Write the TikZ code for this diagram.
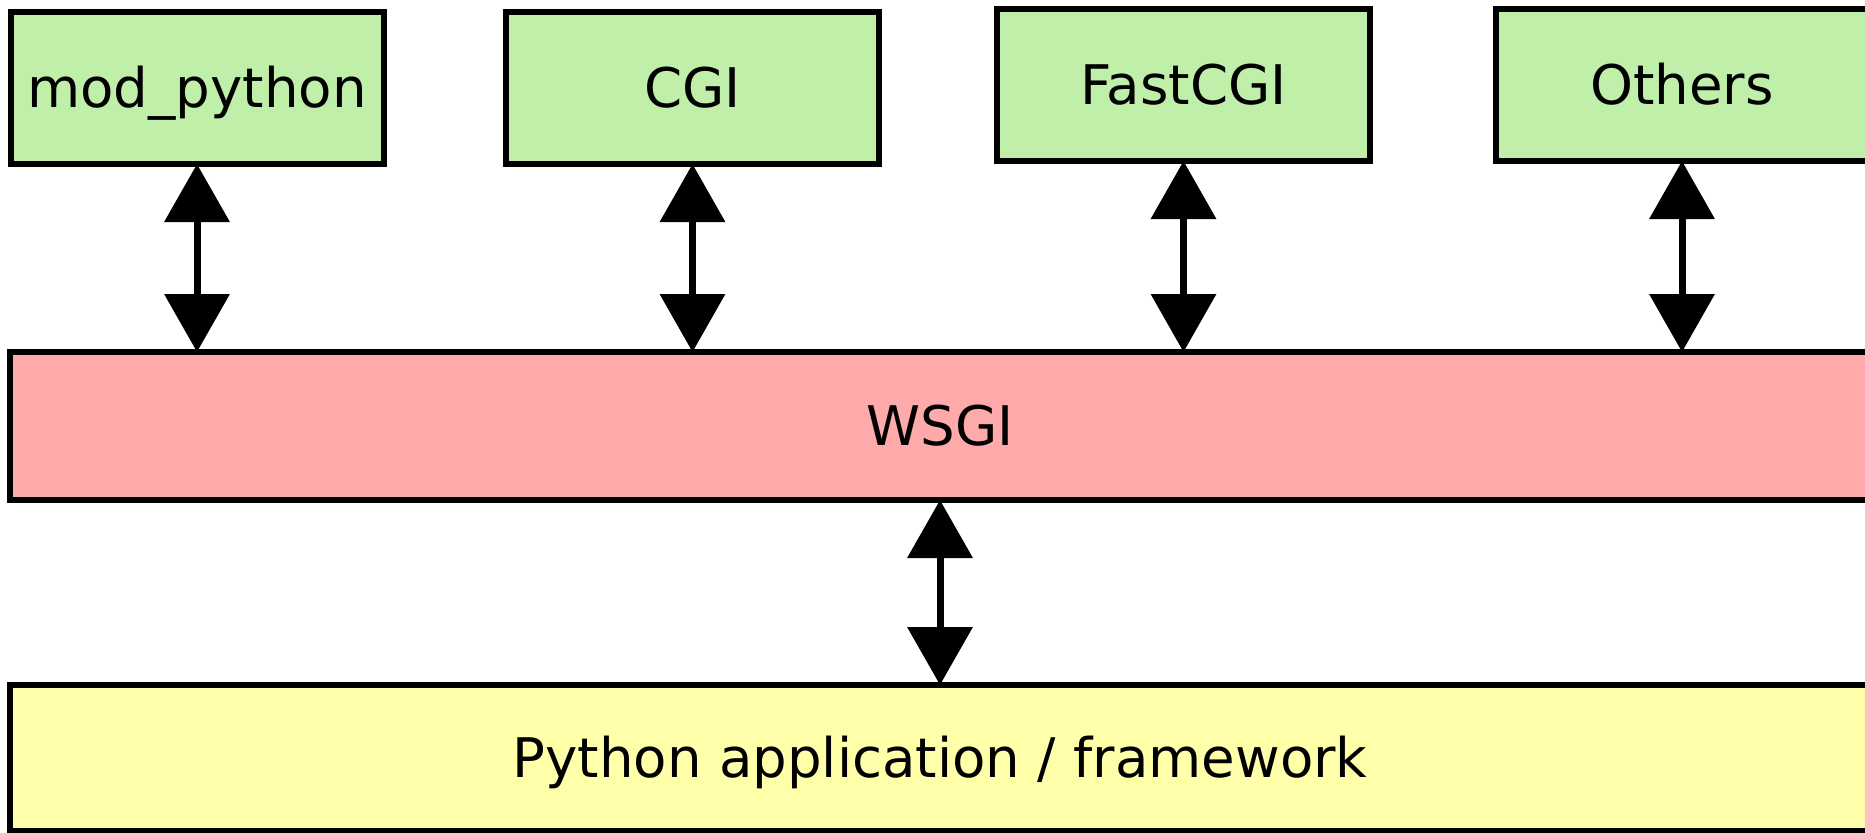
\documentclass[tikz,border=0pt]{standalone}
\usepackage{fontspec}
\setmainfont{DejaVu Sans}
\usepackage{xcolor}
\definecolor{servergreen}{HTML}{BFEFA8}
\definecolor{wsgipink}{HTML}{FFAAAA}
\definecolor{appyellow}{HTML}{FFFFAA}
\usetikzlibrary{arrows.meta, positioning}

\begin{document}
\begin{tikzpicture}[
        x=0.5pt, y=-0.5pt,
        font=\fontsize{27.3}{32}\selectfont,
        layer_box/.style={
            rectangle,
            draw=black,
            line width=3pt,
            outer sep=0pt,
            inner sep=0pt,
            text height=19.5pt,
            text depth=0pt,
            text=black
        },
        server_box/.style={layer_box, fill=servergreen, minimum width=186.5pt, minimum height=76pt},
        wsgi_box/.style={layer_box, fill=wsgipink, minimum width=930pt, minimum height=74pt},
        app_box/.style={layer_box, fill=appyellow, minimum width=930pt, minimum height=73pt},
        link_arrow/.style={
            line width=3.5pt,
            {Triangle[length=29pt, width=32pt]}-{Triangle[length=29pt, width=32pt]}
        }
    ]

    \clip (0, 0) rectangle (1865, 832);

    % Servers
    \node[server_box] (modpython) at (197, 88) {mod\_python};
    \node[server_box] (cgi) at (692.5, 88) {CGI};
    \node[server_box] (fastcgi) at (1183.5, 85) {FastCGI};
    \node[server_box] (others) at (1682, 85) {Others};

    % Interface layer
    \node[wsgi_box] (wsgi) at (940, 426) {WSGI};

    % Application layer
    \node[app_box] (app) at (940, 758) {Python application / framework};

    % Links
    \foreach \srv in {modpython, cgi, fastcgi, others} {
        \draw[link_arrow] (\srv.south) -- (\srv.south |- wsgi.north);
    }
    \draw[link_arrow] (wsgi.south) -- (app.north);

\end{tikzpicture}
\end{document}
